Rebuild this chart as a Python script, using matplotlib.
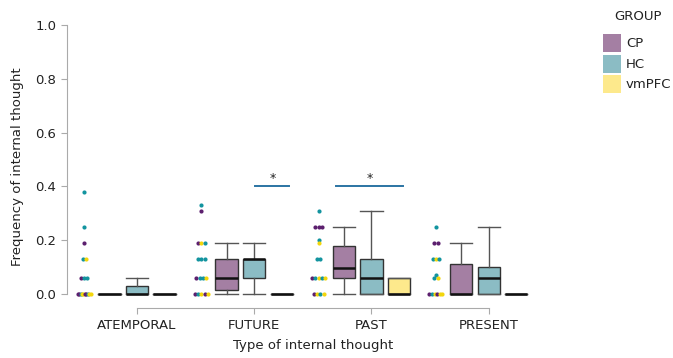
import matplotlib
matplotlib.use("Agg")
import matplotlib.pyplot as plt
from matplotlib.patches import Rectangle

# categories and groups
kategorije = ["ATEMPORAL", "FUTURE", "PAST", "PRESENT"]
skupine = ["CP", "HC", "vmPFC"]

# box stats per category: (whislo, q1, med, q3, whishi) for CP, HC, vmPFC
box_atemporal = [(0, 0, 0, 0, 0), (0, 0, 0, 0.03, 0.06), (0, 0, 0, 0, 0)]
box_future = [(0, 0.015, 0.06, 0.13, 0.19), (0, 0.06, 0.13, 0.13, 0.19), (0, 0, 0, 0, 0)]
box_past = [(0, 0.06, 0.095, 0.177, 0.25), (0, 0, 0.06, 0.13, 0.31), (0, 0, 0, 0.06, 0.06)]
box_present = [(0, 0, 0, 0.11, 0.19), (0, 0, 0.06, 0.10, 0.25), (0, 0, 0, 0, 0)]

# individual points per category (CP, HC, vmPFC)
pike_atemporal = [[0.19, 0.06, 0, 0, 0, 0],
                  [0.38, 0.25, 0.13, 0.06, 0.06, 0, 0],
                  [0.13, 0, 0, 0, 0]]
pike_future = [[0.31, 0.19, 0.06, 0, 0],
               [0.33, 0.19, 0.13, 0.13, 0.13, 0.06, 0.06, 0],
               [0.19, 0.06, 0, 0]]
pike_past = [[0.25, 0.25, 0.25, 0.06, 0],
             [0.31, 0.20, 0.13, 0.13, 0.06, 0.06, 0],
             [0.19, 0.06, 0.06, 0, 0]]
pike_present = [[0.19, 0.19, 0, 0],
                [0.25, 0.13, 0.13, 0.07, 0.06, 0],
                [0.13, 0.06, 0, 0, 0]]

# significance bars: (category, from offset, to offset, height)
znacilnosti = [(1, 0.01, 0.30, 0.40), (2, -0.30, 0.27, 0.40)]

boxi = [box_atemporal, box_future, box_past, box_present]
pike = [pike_atemporal, pike_future, pike_past, pike_present]

barve_pik = ["#5c1f6e", "#13949f", "#f3d60c"]
barve_box = ["#a47fa3", "#8bbcc4", "#fde98c"]
odmiki = [-0.235, 0.0, 0.235]
sirina = 0.19

plt.rcParams["font.family"] = "DejaVu Sans"
fig = plt.figure(figsize=(6.73, 3.58), dpi=100)
ax = fig.add_axes([66.6 / 673, 1 - 308 / 358, 492.4 / 673, 283 / 358])

for i, kat in enumerate(boxi):
    for j, (lo, q1, med, q3, hi) in enumerate(kat):
        stat = dict(whislo=lo, q1=q1, med=med, q3=q3, whishi=hi, fliers=[])
        ax.bxp([stat], positions=[i + odmiki[j]], widths=sirina, patch_artist=True,
               showfliers=False, capwidths=sirina,
               boxprops=dict(facecolor=barve_box[j], edgecolor="#333333", linewidth=1.0),
               whiskerprops=dict(color="#555555", linewidth=1.0),
               capprops=dict(color="#555555", linewidth=1.0),
               medianprops=dict(color="#111111", linewidth=1.8))

# points left of each category, packed sideways where values repeat
for i, kat in enumerate(pike):
    vrstice = {}
    for j, vrednosti in enumerate(kat):
        for v in vrednosti:
            vrstice.setdefault(v, []).append(j)
    for v, sk in vrstice.items():
        n = len(sk)
        korak = 0 if n == 1 else min(0.028, 0.11 / (n - 1))
        # mix groups so colours interleave like a jitter
        sk = sk[::2] + sk[1::2]
        for k, j in enumerate(sk):
            dx = (k - (n - 1) / 2) * korak
            ax.scatter(i - 0.45 + dx, v, s=9, color=barve_pik[j], zorder=3,
                       linewidths=0)

for kat, a, b, h in znacilnosti:
    ax.plot([kat + a, kat + b], [h, h], color="#2b74a3", lw=1.4, clip_on=False)
    ax.text(kat + (a + b) / 2, h + 0.015, "*", ha="center", va="baseline",
            fontsize=9, color="#222222")

ax.set_xlim(-0.6, 3.6)
ax.set_ylim(-0.052, 1.0)
ax.set_xticks(range(len(kategorije)))
ax.set_xticklabels(kategorije)
ax.set_yticks([0, 0.2, 0.4, 0.6, 0.8, 1.0])
ax.set_yticklabels(["0.0", "0.2", "0.4", "0.6", "0.8", "1.0"])
ax.tick_params(labelsize=9.5, colors="#aaaaaa", labelcolor="#222222", length=4)
ax.tick_params(axis="x", pad=4)
for s in ["top", "right"]:
    ax.spines[s].set_visible(False)
ax.spines["left"].set_bounds(0, 1)
ax.spines["bottom"].set_bounds(0, 3)
for s in ["left", "bottom"]:
    ax.spines[s].set_color("#aaaaaa")
ax.set_xlabel("Type of internal thought", fontsize=9.5, color="#222222", labelpad=5)
ax.set_ylabel("Frequency of internal thought", fontsize=9.5, color="#222222", labelpad=8)

# legend drawn by hand in pixel positions of the figure
W, H = 673, 358
fig.text(638 / W, 1 - 17 / H, "GROUP", ha="center", va="center", fontsize=9.5, color="#222222")
for j, ime in enumerate(skupine):
    vrh = 34 + j * 20.5
    fig.add_artist(Rectangle((603 / W, 1 - (vrh + 18) / H), 18 / W, 18 / H,
                             facecolor=barve_box[j], edgecolor="none", transform=fig.transFigure))
    fig.text(626 / W, 1 - (vrh + 9.5) / H, ime, ha="left", va="center", fontsize=9.5,
             color="#222222")

fig.savefig("out.png", dpi=100)
